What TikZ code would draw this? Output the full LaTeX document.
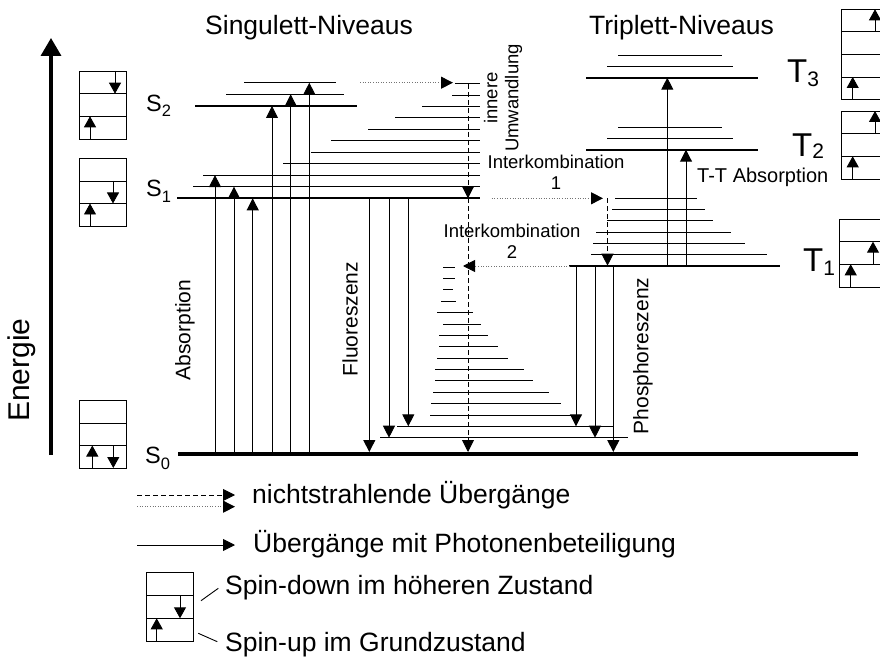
\documentclass[tikz,border=0pt]{standalone}
\usepackage{fontspec}
\setmainfont{Liberation Sans}
\usepackage{tikz}
\usetikzlibrary{arrows.meta}

\begin{document}
\begin{tikzpicture}[
    x=1pt, y=-1pt,
    lvl/.style={line width=2pt},
    vib/.style={line width=0.9pt},
    arr/.style={line width=0.9pt, -{Triangle[length=12pt, width=12pt]}},
    dsh/.style={arr, dash pattern=on 5pt off 3pt},
    dot/.style={line width=0.9pt, black!55, dash pattern=on 1pt off 1.6pt,
                -{Triangle[length=12pt, width=12pt, color=black]}},
    box/.style={line width=0.9pt},
    spin/.style={line width=0.9pt, -{Triangle[length=11pt, width=12pt]}},
    big/.style={font=\fontsize{26.5}{30}\selectfont, inner sep=0pt, anchor=base west},
    lab/.style={font=\fontsize{21}{24}\selectfont, inner sep=0pt, rotate=90},
    small/.style={font=\fontsize{18.5}{21}\selectfont, inner sep=0pt, align=center},
    slev/.style={font=\fontsize{23.5}{25}\selectfont, inner sep=0pt, anchor=base west},
    tlev/.style={font=\fontsize{33}{36}\selectfont, inner sep=0pt, anchor=base west}
]
\useasboundingbox (0,0) rectangle (880,660);
\clip (0,0) rectangle (880,660);

\draw[line width=3.5pt, -{Triangle[length=18pt, width=20pt]}] (51,455) -- (51,38);
\node[font=\fontsize{30}{32}\selectfont, rotate=90, inner sep=0pt] (energie) at (22,370) {Energie};

\node[big] (sing) at (205,35) {Singulett-Niveaus};
\node[big] (trip) at (589,35) {Triplett-Niveaus};

% Hauptniveaus
\draw[line width=4pt] (178,453.5) -- (858,453.5);
\draw[lvl] (177,198.3) -- (480,198.3);
\draw[lvl] (195,106) -- (357,106);
\draw[lvl] (569,265.7) -- (780,265.7);
\draw[lvl] (586,149.7) -- (758,149.7);
\draw[lvl] (586,77.7) -- (758,77.7);

% Schwingungsniveaus
\foreach \y/\a in {186.6/193, 175.1/203, 163.7/283, 152.2/311, 140.8/331,
                   129.3/368, 117.9/395, 106.4/422, 95.0/452, 83.5/455}
    \draw[vib] (\a,\y) -- (480,\y);
\foreach \y/\a/\b in {94.3/226/344, 82.7/244/336, 138/607/733, 127/618/722,
                      66.3/607/733, 55/618/722}
    \draw[vib] (\a,\y) -- (\b,\y);
\foreach \y/\a/\b in {254.7/591/767, 243.3/593/745, 232/596/731,
                      220.7/607/713, 209.3/612/705, 198/615/697}
    \draw[vib] (\a,\y) -- (\b,\y);
\foreach \y/\a/\b in {437.7/380/628, 426.3/397/613, 415/430/573, 403.6/431/561,
                      392.2/433/549, 380.9/435/533, 369.5/435/524, 358.1/437/508,
                      346.8/439/498, 335.4/439/488, 324/443/481, 312.7/437/473,
                      301.3/441/456, 289.9/443/453, 278.6/443/455, 267.2/443/455}
    \draw[vib] (\a,\y) -- (\b,\y);

% Uebergaenge
\foreach \x/\y in {215/175.1, 234/186.6, 252.7/198.3, 272/106, 290.7/94.3, 309.3/82.7}
    \draw[arr] (\x,453.5) -- (\x,\y);
\foreach \x/\y in {369.3/452, 389/437.7, 408.3/426.3}
    \draw[arr] (\x,198.3) -- (\x,\y);
\foreach \x/\y in {576/426.3, 595/437.7, 613.3/452}
    \draw[arr] (\x,265.7) -- (\x,\y);
\draw[arr] (667.3,265.7) -- (667.3,77.7);
\draw[arr] (686,265.7) -- (686,149.7);

\draw[dot] (360,82.7) -- (453,82.7);
\draw[dsh] (468,84) -- (468,198.3);
\draw[dsh] (468,198.3) -- (468,452);
\draw[dot] (491.7,198.3) -- (603,198.3);
\draw[dsh] (607.5,198.3) -- (607.5,265.7);
\draw[dot] (570,266) -- (463,266);

\node[small, rotate=90] (ic) at (503,98) {innere\\Umwandlung};
\node[small] (isc1) at (556,172) {Interkombination\\1};
\node[small] (isc2) at (512,241) {Interkombination\\2};
\node[lab] (abs) at (185,330) {Absorption};
\node[lab] (fluo) at (350,319) {Fluoreszenz};
\node[lab] (phos) at (643,356) {Phosphoreszenz};
\node[font=\fontsize{20}{22}\selectfont, inner sep=0pt, anchor=west] (tt) at (697,177) {T-T Absorption};

\node[slev] (s2) at (146,112) {S\raisebox{-5pt}{\fontsize{16.5}{17}\selectfont 2}};
\node[slev] (s1) at (146,197) {S\raisebox{-6pt}{\fontsize{16.5}{17}\selectfont 1}};
\node[slev] (s0) at (145,463) {S\raisebox{-6pt}{\fontsize{16.5}{17}\selectfont 0}};
\node[tlev] (t3) at (787,83) {T\raisebox{-4pt}{\fontsize{21}{22}\selectfont 3}};
\node[tlev] (t2) at (792,157) {T\raisebox{-2pt}{\fontsize{21}{22}\selectfont 2}};
\node[tlev] (t1) at (803,272) {T\raisebox{-3pt}{\fontsize{21}{22}\selectfont 1}};

% Spinkaestchen
\draw[box] (79,71) rectangle (126,139) (79,93.7) -- (126,93.7) (79,116.3) -- (126,116.3);
\draw[spin] (115,71) -- (115,93.7);
\draw[spin] (90,139) -- (90,116.3);
\draw[box] (79,158) rectangle (126,226) (79,181) -- (126,181) (79,203.5) -- (126,203.5);
\draw[spin] (113,181) -- (113,203.5);
\draw[spin] (90,226) -- (90,203.5);
\draw[box] (79,400) rectangle (126,468) (79,423) -- (126,423) (79,445.5) -- (126,445.5);
\draw[spin] (92.3,468) -- (92.3,445.5);
\draw[spin] (113.3,445.5) -- (113.3,468);

\draw[box] (841.7,9.3) rectangle (888.7,99.3) (841.7,31.7) -- (888.7,31.7)
           (841.7,54.3) -- (888.7,54.3) (841.7,77) -- (888.7,77);
\draw[spin] (875,31.7) -- (875,9.3);
\draw[spin] (852.7,99.3) -- (852.7,77);
\draw[box] (841,111) rectangle (888,179) (841,133.7) -- (888,133.7) (841,156.3) -- (888,156.3);
\draw[spin] (875,133.7) -- (875,111);
\draw[spin] (852.7,179) -- (852.7,156.3);
\draw[box] (839,219) rectangle (886,287) (839,241.7) -- (886,241.7) (839,264.3) -- (886,264.3);
\draw[spin] (873,264.3) -- (873,241.7);
\draw[spin] (850.7,287) -- (850.7,264.3);

% Legende
\draw[dsh] (137,495) -- (235,495);
\draw[dot] (137,506.7) -- (235,506.7);
\draw[arr] (137,545) -- (235,545);
\node[big] (nst) at (252,503) {nichtstrahlende Übergänge};
\node[big] (phot) at (253,552) {Übergänge mit Photonenbeteiligung};

\draw[box] (146.7,572.7) rectangle (193.3,641) (146.7,595.5) -- (193.3,595.5)
           (146.7,618.3) -- (193.3,618.3);
\draw[spin] (180,595.5) -- (180,618.3);
\draw[spin] (156.7,641) -- (156.7,618.3);
\node[big] (sdown) at (225,594) {Spin-down im höheren Zustand};
\node[big] (sup) at (225,651) {Spin-up im Grundzustand};
\draw[vib] (201,600.7) -- (218.3,588.3);
\draw[vib] (198.3,633.3) -- (217.3,641.7);
\end{tikzpicture}
\end{document}
